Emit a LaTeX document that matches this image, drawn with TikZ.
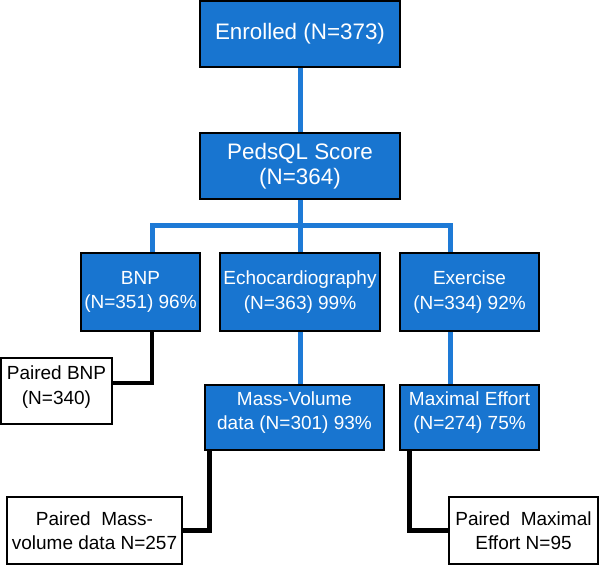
\documentclass[tikz,border=0pt]{standalone}
\usepackage{fontspec}
\setmainfont{Liberation Sans}
\usetikzlibrary{calc}
\definecolor{boxblue}{RGB}{24,117,208}
\definecolor{lineblue}{RGB}{30,122,214}
\tikzset{
  bluebox/.style={draw=black, line width=1.4pt, fill=boxblue, text=white, inner sep=0pt, align=center, font=\fontsize{19}{24.5}\selectfont},
  bigbox/.style={bluebox, font=\fontsize{22.4}{25}\selectfont},
  whitebox/.style={draw=black, line width=1.4pt, fill=white, text=black, inner sep=0pt, align=center, font=\fontsize{19}{24.5}\selectfont},
  bline/.style={draw=lineblue, line width=5pt},
  kline/.style={draw=black, line width=4.5pt},
}
\begin{document}
\begin{tikzpicture}[x=1pt, y=-1pt]
\useasboundingbox (0,0) rectangle (600,565);
% nodes
\node[bigbox, minimum width=200pt, minimum height=66pt] (enr) at (300,34) {Enrolled (N=373)};
\node[bigbox, minimum width=200pt, minimum height=66pt] (peds) at (300,166) {PedsQL Score\\(N=364)};
\node[bluebox, minimum width=119pt, minimum height=78pt] (bnp) at (140.5,292) {};
\node[bluebox, minimum width=160pt, minimum height=78pt] (echo) at (300,292) {};
\node[bluebox, minimum width=139pt, minimum height=78pt] (exer) at (469.5,292) {};
\node[whitebox, minimum width=111pt, minimum height=66pt] (pbnp) at (56.5,391) {};
\node[bluebox, minimum width=179pt, minimum height=65pt] (mass) at (294.5,417.5) {};
\node[bluebox, minimum width=139pt, minimum height=65pt] (maxe) at (469.5,417.5) {};
\node[whitebox, minimum width=175pt, minimum height=67pt] (pmass) at (94.5,530.5) {};
\node[whitebox, minimum width=149pt, minimum height=67pt] (pmax) at (523.5,530.5) {};
% texts
\node[text=white, align=center, font=\fontsize{19}{24.5}\selectfont] (tbnp) at (bnp) {BNP\\(N=351) 96\%};
\node[text=white, align=center, font=\fontsize{19}{24.5}\selectfont] (techo) at (echo) {Echocardiography\\(N=363) 99\%};
\node[text=white, align=center, font=\fontsize{19}{24.5}\selectfont] (texer) at (exer) {Exercise\\(N=334) 92\%};
\node[text=black, align=center, font=\fontsize{19}{24.5}\selectfont] (tpbnp) at ($(pbnp)+(0,-4)$) {Paired BNP\\(N=340)};
\node[text=white, align=center, font=\fontsize{19}{24.5}\selectfont] (tmass) at ($(mass)+(0,-5)$) {Mass-Volume\\data (N=301) 93\%};
\node[text=white, align=center, font=\fontsize{19}{24.5}\selectfont] (tmaxe) at ($(maxe)+(0,-5)$) {Maximal Effort\\(N=274) 75\%};
\node[text=black, align=center, font=\fontsize{19}{24.5}\selectfont] (tpmass) at (pmass) {Paired\ \ Mass-\\volume data N=257};
\node[text=black, align=center, font=\fontsize{19}{24.5}\selectfont] (tpmax) at (pmax) {Paired\ \ Maximal\\Effort N=95};
% bus coordinates
\coordinate (busL) at (152,225.5);
\coordinate (busR) at (450,225.5);
% connectors (blue)
\begin{scope}[on background layer/.style={}]
\draw[bline] (enr.south) -- (peds.north);
\draw[bline] (peds.south) -- (echo.north);
\draw[bline, line join=miter] (busL |- bnp.north) -- (busL) -- (busR) -- (busR |- exer.north);
\draw[bline] (echo.south) -- (echo.south |- mass.north);
\draw[bline] (busR |- exer.south) -- (busR |- maxe.north);
% connectors (black)
\draw[kline, line join=miter] (busL |- bnp.south) |- ($(pbnp.east)+(0,-8)$);
\draw[kline, line join=miter] ($(mass.south west)+(5,0)$) |- (pmass.east);
\draw[kline, line join=miter] ($(maxe.south west)+(10,0)$) |- (pmax.west);
\end{scope}
% redraw box borders on top of connectors
\foreach \n in {enr,peds,bnp,echo,exer,pbnp,mass,maxe,pmass,pmax}{
  \draw[black, line width=1.4pt] (\n.north west) rectangle (\n.south east);
}
\end{tikzpicture}
\end{document}
